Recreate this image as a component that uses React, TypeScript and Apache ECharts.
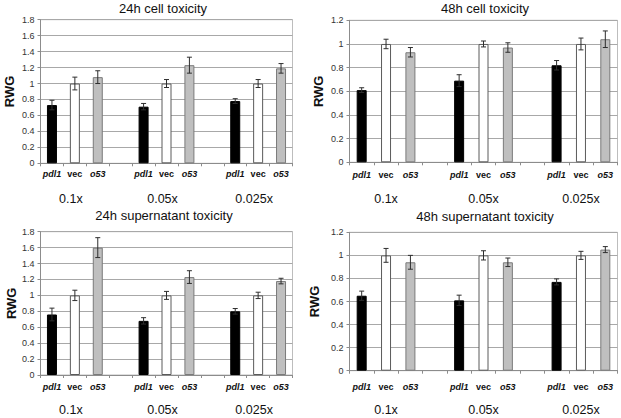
import React, { useEffect, useRef } from 'react';
import * as echarts from 'echarts';

const GROUPS = ['0.1x', '0.05x', '0.025x'];
const SAMPLES = ['pdl1', 'vec', 'o53'];
const TITLES = ['24h cell toxicity', '48h cell toxicity', '24h supernatant toxicity', '48h supernatant toxicity'];
const Y_MAX = [1.8, 1.2, 1.8, 1.2];

// values in group order: [pdl1, vec, o53] for 0.1x, 0.05x, 0.025x
const cell24hMean = [0.73, 1.0, 1.08, 0.71, 1.0, 1.23, 0.78, 1.0, 1.19];
const cell24hErr = [0.06, 0.08, 0.08, 0.04, 0.05, 0.1, 0.03, 0.05, 0.06];
const cell48hMean = [0.61, 1.0, 0.93, 0.69, 1.0, 0.97, 0.82, 1.0, 1.04];
const cell48hErr = [0.02, 0.04, 0.04, 0.05, 0.025, 0.04, 0.04, 0.05, 0.07];
const sup24hMean = [0.76, 1.0, 1.6, 0.68, 1.0, 1.23, 0.8, 1.0, 1.18];
const sup24hErr = [0.08, 0.065, 0.125, 0.04, 0.05, 0.08, 0.035, 0.04, 0.035];
const sup48hMean = [0.65, 1.0, 0.94, 0.61, 1.0, 0.94, 0.77, 1.0, 1.05];
const sup48hErr = [0.04, 0.06, 0.06, 0.045, 0.04, 0.037, 0.026, 0.035, 0.026];

const MEANS = [cell24hMean, cell48hMean, sup24hMean, sup48hMean];
const ERRS = [cell24hErr, cell48hErr, sup24hErr, sup48hErr];

const FILL = ['#000000', '#ffffff', '#bfbfbf'];
const BORDER = ['#000000', '#5a5a5a', '#7a7a7a'];

const FONT = '"Liberation Sans", Arial, sans-serif';

// category slots: 3 samples per group, with a blank slot between groups
const SLOT_KEYS: string[] = [];
GROUPS.forEach((g, gi) => {
  SAMPLES.forEach((s) => SLOT_KEYS.push(gi + ':' + s));
  if (gi < GROUPS.length - 1) SLOT_KEYS.push(gi + ':gap');
});
const slotIndex = (gi: number, si: number) => gi * (SAMPLES.length + 1) + si;

const GRIDS = [
  { left: 40.5, top: 19.7, width: 252, height: 143.6 },
  { left: 349.5, top: 20.3, width: 268, height: 142 },
  { left: 40.5, top: 231.7, width: 252, height: 143.3 },
  { left: 349.5, top: 232.3, width: 268, height: 138.4 },
];
const CAT_MARGIN = [6, 8, 7.5, 11.5];
const GROUP_GAP = [29, 30, 28.5, 33];
const GROUP_SHIFT = [8, 0, 8, 0];
const TITLE_POS = [
  [163, 8.5],
  [485, 8.5],
  [164, 215],
  [485, 216],
];
const NAME_X = [10, 319, 12, 315];

export default function App() {
  const ref = useRef<HTMLDivElement>(null);
  useEffect(() => {
    if (!ref.current) return;
    const chart = echarts.init(ref.current, undefined, { renderer: 'svg' });

    const grid: any[] = [];
    const xAxis: any[] = [];
    const yAxis: any[] = [];
    const series: any[] = [];
    const graphic: any[] = [];

    for (let p = 0; p < 4; p++) {
      const g = GRIDS[p];
      grid.push({
        ...g,
        show: true,
        borderColor: '#bdbdbd',
        borderWidth: 1,
        backgroundColor: 'transparent',
      });
      xAxis.push({
        type: 'category',
        gridIndex: p,
        data: SLOT_KEYS,
        axisLine: { show: true, lineStyle: { color: '#8c8c8c', width: 1 } },
        axisTick: { show: true, interval: 0, length: 3, lineStyle: { color: '#8c8c8c' } },
        axisLabel: {
          interval: 0,
          margin: CAT_MARGIN[p],
          fontFamily: FONT,
          fontSize: 9,
          fontWeight: 'bold',
          color: '#111',
          formatter: (v: string) => {
            const s = v.split(':')[1];
            if (s === 'gap') return '';
            if (s === 'vec') return '{b|' + s + '}';
            return '{i|' + s + '}';
          },
          rich: {
            b: { fontFamily: FONT, fontSize: 9, fontWeight: 'bold', color: '#111' },
            i: { fontFamily: FONT, fontSize: 9, fontWeight: 'bold', fontStyle: 'italic', color: '#111' },
          },
        },
        splitLine: { show: false },
      });
      xAxis.push({
        type: 'category',
        gridIndex: p,
        position: 'bottom',
        offset: GROUP_GAP[p],
        data: SLOT_KEYS,
        axisLine: { show: false },
        axisTick: { show: false },
        axisLabel: {
          interval: 0,
          margin: 0,
          formatter: (v: string) => {
            const [gi, s] = v.split(':');
            return s === 'vec' ? '{g|' + GROUPS[Number(gi)] + '}' : '';
          },
          rich: {
            g: {
              fontFamily: FONT,
              fontSize: 12.5,
              color: '#111',
              padding: [0, GROUP_SHIFT[p], 0, 0],
            },
          },
        },
        splitLine: { show: false },
      });
      yAxis.push({
        type: 'value',
        gridIndex: p,
        min: 0,
        max: Y_MAX[p],
        interval: 0.2,
        name: 'RWG',
        nameLocation: 'middle',
        nameGap: g.left - NAME_X[p] - 6,
        nameTextStyle: { fontFamily: FONT, fontSize: 13, fontWeight: 'bold', color: '#111' },
        axisLine: { show: true, lineStyle: { color: '#8c8c8c', width: 1 } },
        axisTick: { show: true, length: 3, lineStyle: { color: '#8c8c8c' } },
        axisLabel: { fontFamily: FONT, fontSize: 9, color: '#333', margin: 6 },
        splitLine: { show: true, lineStyle: { color: '#a8a8a8', width: 1 } },
      });

      const means = MEANS[p];
      const errs = ERRS[p];
      const barData: any[] = SLOT_KEYS.map(() => '-');
      const errData: any[] = [];
      GROUPS.forEach((_, gi) => {
        SAMPLES.forEach((_, si) => {
          const k = gi * SAMPLES.length + si;
          const idx = slotIndex(gi, si);
          barData[idx] = {
            value: means[k],
            itemStyle: { color: FILL[si], borderColor: BORDER[si], borderWidth: 1 },
          };
          errData.push([idx, means[k], errs[k]]);
        });
      });

      series.push({
        type: 'bar',
        xAxisIndex: p * 2,
        yAxisIndex: p,
        data: barData,
        barWidth: 10,
        z: 2,
      });
      series.push({
        type: 'custom',
        xAxisIndex: p * 2,
        yAxisIndex: p,
        data: errData,
        encode: { x: 0, y: 1 },
        z: 5,
        renderItem: (params: any, api: any) => {
          const x = api.value(0);
          const m = api.value(1);
          const e = api.value(2);
          const top = api.coord([x, m + e]);
          const bot = api.coord([x, m - e]);
          const cx = top[0];
          const hw = 2.5;
          const st = { stroke: '#2e2e2e', lineWidth: 1 };
          return {
            type: 'group',
            children: [
              { type: 'line', shape: { x1: cx, y1: top[1], x2: cx, y2: bot[1] }, style: st },
              { type: 'line', shape: { x1: cx - hw, y1: top[1], x2: cx + hw, y2: top[1] }, style: st },
              { type: 'line', shape: { x1: cx - hw, y1: bot[1], x2: cx + hw, y2: bot[1] }, style: st },
            ],
          };
        },
      });

      graphic.push({
        type: 'text',
        x: TITLE_POS[p][0],
        y: TITLE_POS[p][1],
        style: {
          text: TITLES[p],
          fontFamily: FONT,
          fontSize: 13,
          fill: '#111',
          align: 'center',
          verticalAlign: 'middle',
        },
      });
    }

    chart.setOption({
      animation: false,
      backgroundColor: '#ffffff',
      grid,
      xAxis,
      yAxis,
      series,
      graphic,
    });
    return () => chart.dispose();
  }, []);

  return (
    <div
      ref={ref}
      style={{ position: 'absolute', left: 0, top: 0, width: 621, height: 418, background: '#fff' }}
    />
  );
}
